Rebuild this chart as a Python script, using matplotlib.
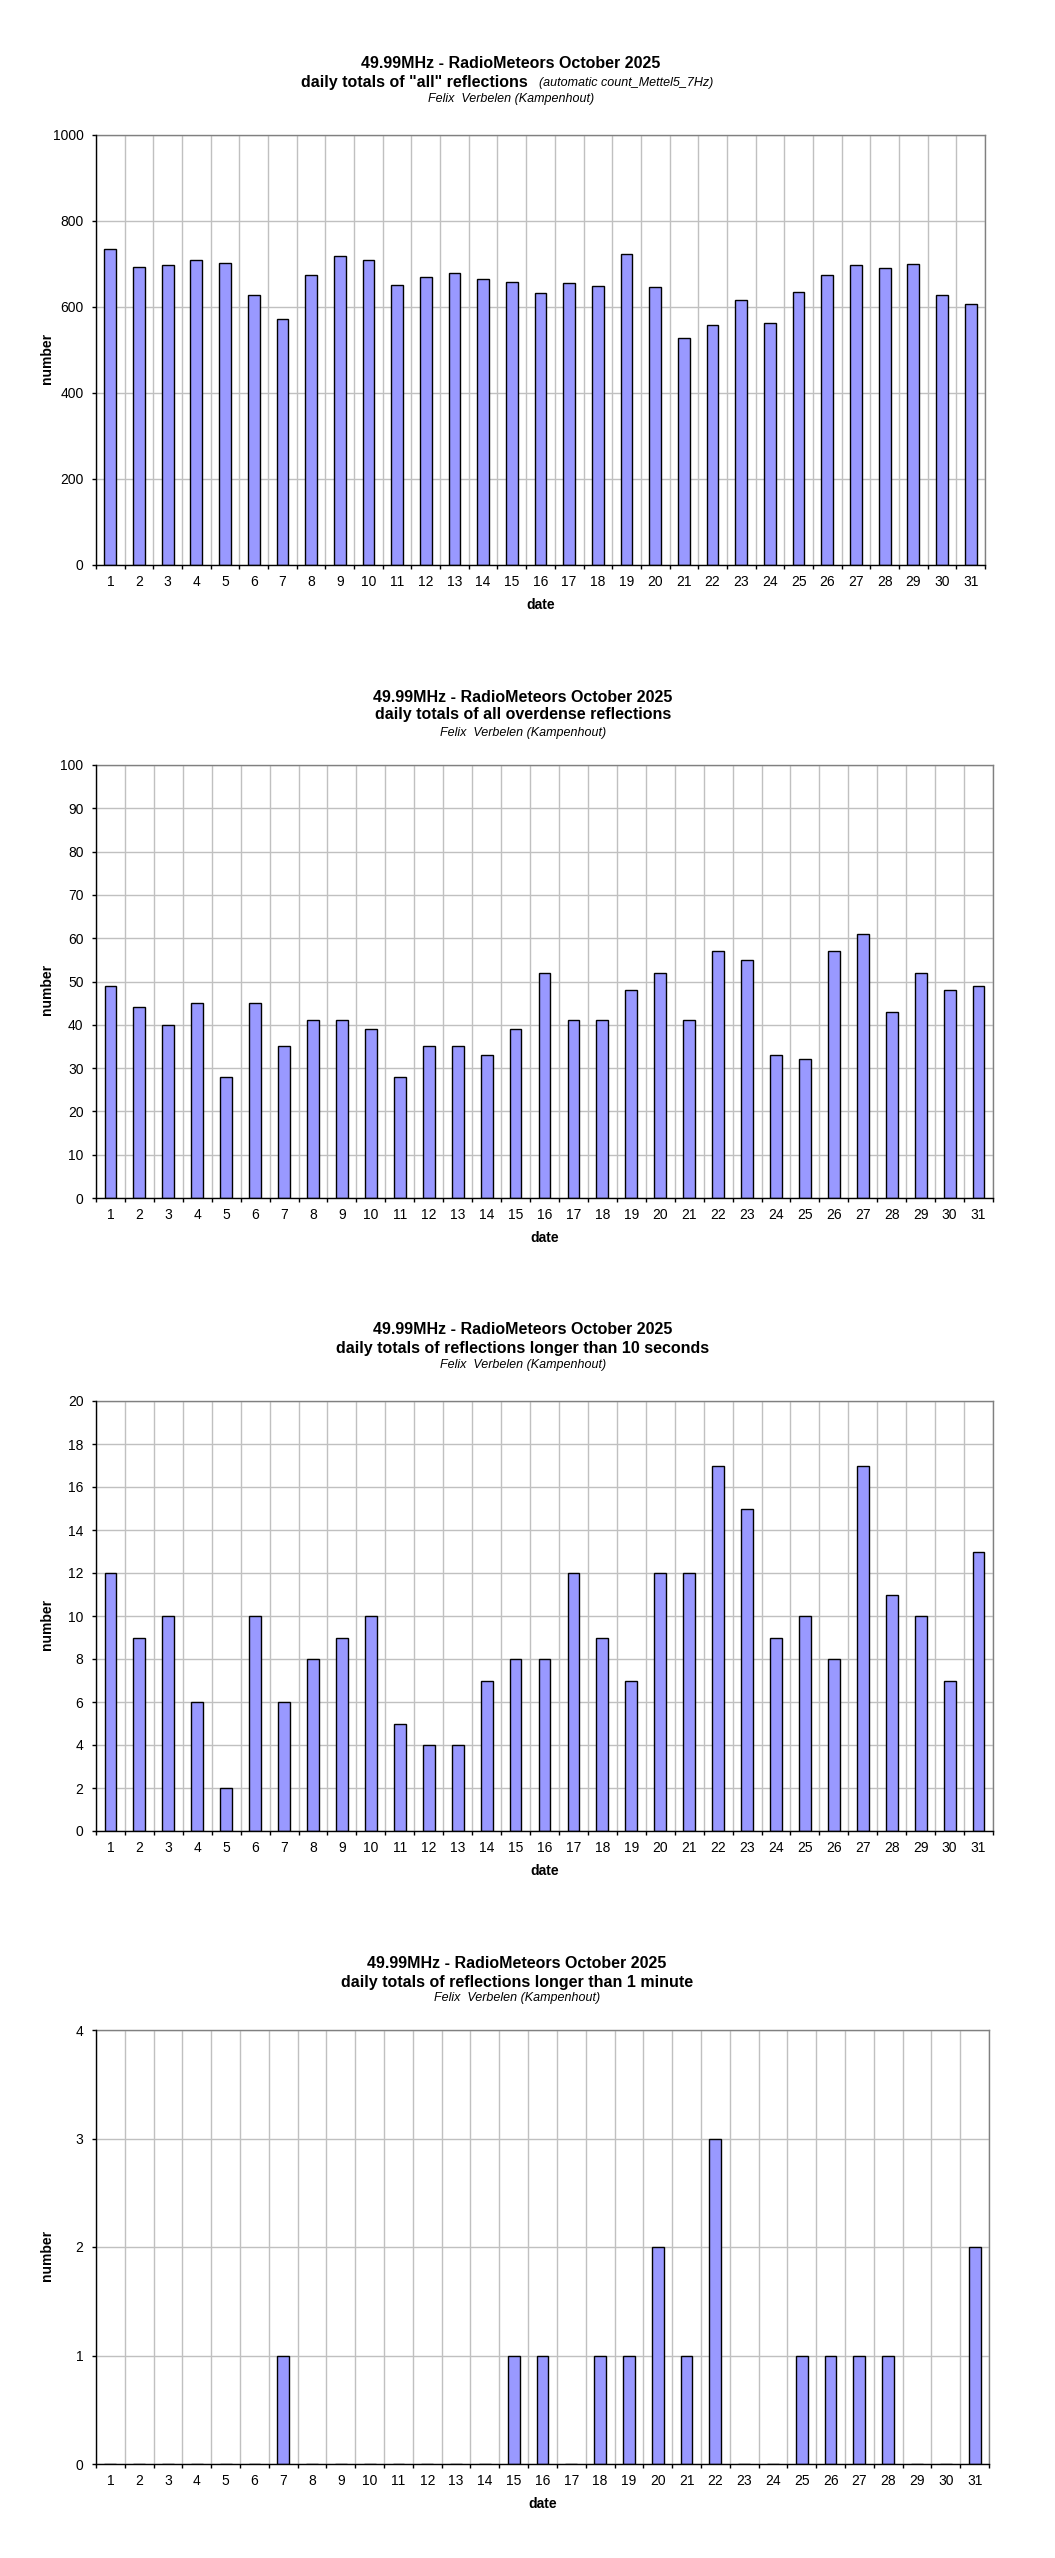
import numpy as np
import matplotlib
matplotlib.use("Agg")
import matplotlib.pyplot as plt
from matplotlib.ticker import FixedLocator, NullFormatter

plt.rcParams['font.family'] = ['Liberation Sans', 'DejaVu Sans']

W, H = 1055, 2558

days = list(range(1, 32))

all_counts = [735, 693, 698, 709, 702, 628, 572, 674, 718, 709, 651, 669, 678, 664, 657,
              632, 656, 648, 723, 646, 529, 558, 616, 563, 635, 674, 698, 691, 700, 628, 607]
overdense = [49, 44, 40, 45, 28, 45, 35, 41, 41, 39, 28, 35, 35, 33, 39, 52, 41, 41, 48, 52,
             41, 57, 55, 33, 32, 57, 61, 43, 52, 48, 49]
longer_10s = [12, 9, 10, 6, 2, 10, 6, 8, 9, 10, 5, 4, 4, 7, 8, 8, 12, 9, 7, 12, 12, 17, 15, 9,
              10, 8, 17, 11, 10, 7, 13]
longer_1m = [0, 0, 0, 0, 0, 0, 1, 0, 0, 0, 0, 0, 0, 0, 1, 1, 0, 1, 1, 2, 1, 3, 0, 0, 1, 1, 1,
             1, 0, 0, 2]

title1 = "49.99MHz - RadioMeteors October 2025"
subtitles = ['daily totals of "all" reflections',
             "daily totals of all overdense reflections",
             "daily totals of reflections longer than 10 seconds",
             "daily totals of reflections longer than 1 minute"]
observer = "Felix  Verbelen (Kampenhout)"
note = "(automatic count_Mettel5_7Hz)"

# panel layout in pixels: left, right, top, bottom, y max, y step, title ys, title x
panels = [
    (all_counts, 96, 985, 135, 565, 1000, 200, (63, 82, 99), 511),
    (overdense, 96, 993, 765, 1198, 100, 10, (697, 715, 733), 523),
    (longer_10s, 96, 993, 1401, 1831, 20, 2, (1330, 1349, 1365), 523),
    (longer_1m, 96, 989, 2030, 2464, 4, 1, (1963, 1982, 1998), 517),
]

fig = plt.figure(figsize=(W / 100, H / 100), dpi=100)


def fx(x):
    return x / W


def fy(y):
    return 1 - y / H


for i, (vals, l, r, t, b, ymax, ystep, tys, tx) in enumerate(panels):
    ax = fig.add_axes([fx(l), fy(b), (r - l) / W, (b - t) / H])
    ax.bar(days, vals, width=0.41, color="#9999ff", edgecolor="black", linewidth=1, zorder=3)
    ax.set_xlim(0.5, 31.5)
    ax.set_ylim(0, ymax)

    ax.xaxis.set_major_locator(FixedLocator(np.arange(0.5, 32, 1)))
    ax.xaxis.set_major_formatter(NullFormatter())
    ax.xaxis.set_minor_locator(FixedLocator(days))
    ax.set_xticklabels([str(d) for d in days], minor=True)
    ax.tick_params(axis="x", which="major", length=3, width=1, direction="out", color="black")
    ax.tick_params(axis="x", which="minor", length=0, pad=7, labelsize=10)
    ax.set_yticks(np.arange(0, ymax + ystep / 2, ystep))
    ax.tick_params(axis="y", length=3, width=1, direction="out", pad=6, labelsize=10)

    ax.grid(True, which="major", color="#c0c0c0", linewidth=1, zorder=0)
    ax.set_axisbelow(True)
    for s in ("left", "bottom"):
        ax.spines[s].set_color("black")
        ax.spines[s].set_linewidth(1)
        ax.spines[s].set_zorder(4)
    for s in ("top", "right"):
        ax.spines[s].set_color("#808080")
        ax.spines[s].set_linewidth(1)

    fig.text(fx(tx), fy(tys[0]), title1, ha="center", va="center", fontsize=11.5, fontweight="bold")
    if i == 0:
        fig.text(fx(528), fy(tys[1]), subtitles[i], ha="right", va="center", fontsize=11.5,
                 fontweight="bold")
        fig.text(fx(539), fy(tys[1] + 1), note, ha="left", va="center", fontsize=9, style="italic")
    else:
        fig.text(fx(tx), fy(tys[1]), subtitles[i], ha="center", va="center", fontsize=11.5,
                 fontweight="bold")
    fig.text(fx(tx), fy(tys[2]), observer, ha="center", va="center", fontsize=9, style="italic")

    fig.text(fx((l + r) / 2), fy(b + 40), "date", ha="center", va="center", fontsize=10,
             fontweight="bold")
    fig.text(fx(47), fy((t + b) / 2 + 8), "number", ha="center", va="center", fontsize=10,
             fontweight="bold", rotation=90)

fig.savefig("out.png", dpi=100)
